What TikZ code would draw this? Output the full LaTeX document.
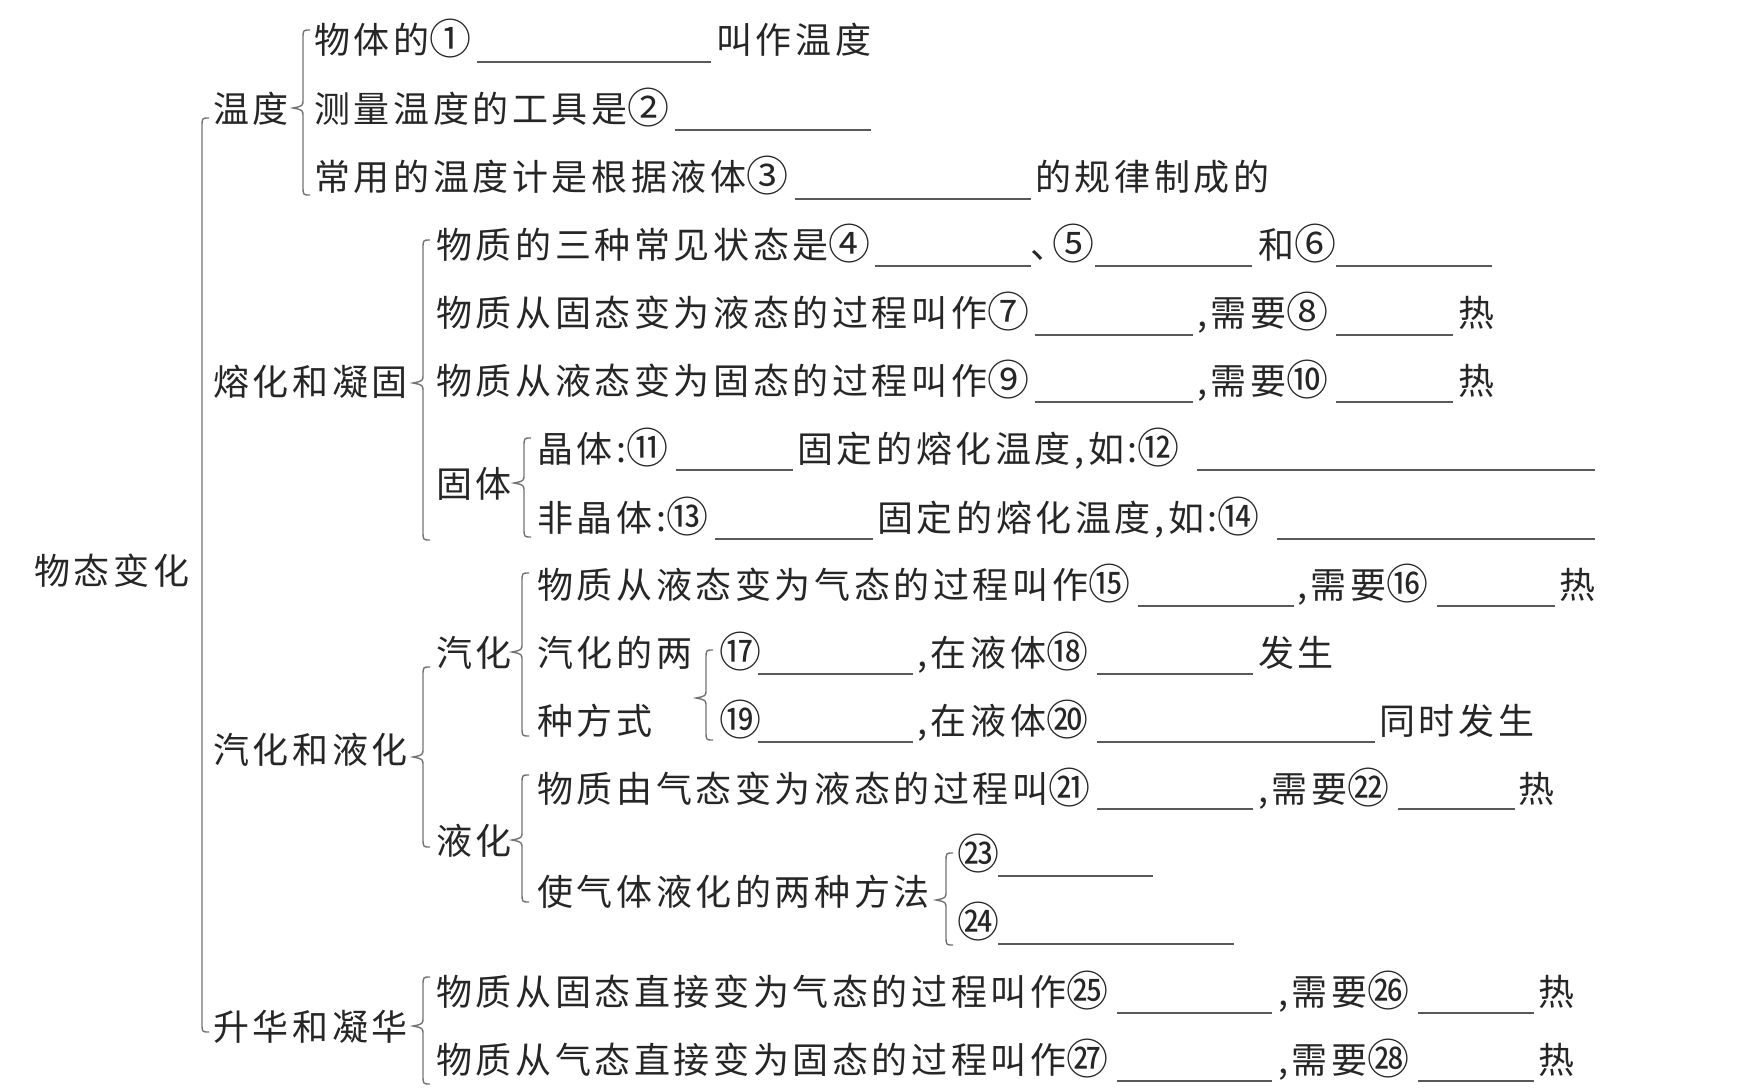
\documentclass[tikz,border=0pt]{standalone}
\usepackage{fontspec}
\newfontfamily\cjk{Noto Sans CJK SC}[LetterSpace=10]
\usepackage{tikz}
\newcommand{\kuohao}[4]{%
  \draw[brc] (#1+7,#2) .. controls (#1,#2) .. (#1,#2+9) -- (#1,#3-9)
    .. controls (#1,#3-2) .. (#1-10,#3) .. controls (#1,#3+2) .. (#1,#3+9)
    -- (#1,#4-9) .. controls (#1,#4) .. (#1+7,#4);}
\newcommand{\blank}[3]{\draw[blk] (#1,#3) -- (#2,#3);}
\newcommand{\qn}[1]{{\fontsize{21}{18}\selectfont\raisebox{-0.8pt}{#1}}}

\begin{document}
\begin{tikzpicture}[
    x=0.5pt, y=-0.5pt,
    txt/.style={anchor=base west, inner sep=0pt, font=\cjk\fontsize{18}{18}\selectfont, text=black!85},
    brc/.style={draw=black!55, line width=0.7pt},
    blk/.style={draw=black!65, line width=0.9pt}]
  \useasboundingbox (0,0) rectangle (1761,1087);

  \node[txt] (top) at (34,584) {物态变化};
  \draw[brc] (209,118) .. controls (202,118) .. (202,127) -- (202,1023) .. controls (202,1032) .. (209,1032);

  \node[txt] (wendu) at (213,122) {温度};
  \kuohao{303}{30}{108}{195}
  \node[txt] (r1a) at (314,53) {物体的\qn{①}};
  \blank{477}{711}{62}
  \node[txt] (r1b) at (716,53) {叫作温度};
  \node[txt] (r2a) at (314,122) {测量温度的工具是\qn{②}};
  \blank{675}{871}{130}
  \node[txt] (r3a) at (314,190) {常用的温度计是根据液体\qn{③}};
  \blank{795}{1031}{199}
  \node[txt] (r3b) at (1035,190) {的规律制成的};

  \node[txt] (rongh) at (213,395) {熔化和凝固};
  \kuohao{423}{240}{383}{540}
  \node[txt] (r4a) at (436,258) {物质的三种常见状态是\qn{④}};
  \blank{875}{1031}{266}
  \node[txt] (r4b) at (1030,258) {\makebox[0.6em][l]{、}\qn{⑤}};
  \blank{1095}{1252}{266}
  \node[txt] (r4d) at (1258,258) {和\qn{⑥}};
  \blank{1336}{1492}{266}
  \node[txt] (r5a) at (436,326) {物质从固态变为液态的过程叫作\qn{⑦}};
  \blank{1035}{1193}{335}
  \node[txt] (r5b) at (1197,326) {,需要\qn{⑧}};
  \blank{1336}{1453}{335}
  \node[txt] (r5c) at (1458,326) {热};
  \node[txt] (r6a) at (436,394) {物质从液态变为固态的过程叫作\qn{⑨}};
  \blank{1035}{1193}{402}
  \node[txt] (r6b) at (1197,394) {,需要\qn{⑩}};
  \blank{1336}{1453}{402}
  \node[txt] (r6c) at (1458,394) {热};

  \node[txt] (guti) at (436,497) {固体};
  \kuohao{524}{438}{483}{537}
  \node[txt] (r7a) at (537,462) {晶体:\qn{⑪}};
  \blank{676}{793}{470}
  \node[txt] (r7b) at (797,462) {固定的熔化温度,如:\qn{⑫}};
  \blank{1197}{1595}{470}
  \node[txt] (r8a) at (537,531) {非晶体:\qn{⑬}};
  \blank{715}{873}{539}
  \node[txt] (r8b) at (877,531) {固定的熔化温度,如:\qn{⑭}};
  \blank{1277}{1595}{539}

  \node[txt] (qihy) at (213,763) {汽化和液化};
  \kuohao{423}{667}{757}{847}
  \node[txt] (qih) at (436,666) {汽化};
  \kuohao{522}{573}{652}{736}
  \node[txt] (r9a) at (537,598) {物质从液态变为气态的过程叫作\qn{⑮}};
  \blank{1138}{1294}{606}
  \node[txt] (r9b) at (1297,598) {,需要\qn{⑯}};
  \blank{1437}{1555}{606}
  \node[txt] (r9c) at (1559,598) {热};
  \node[txt] (r10a) at (537,666) {汽化的两};
  \node[txt] (r11a) at (537,734) {种方式};
  \kuohao{706}{650}{698}{740}
  \node[txt] (r10b) at (719,666) {\qn{⑰}};
  \blank{758}{913}{674}
  \node[txt] (r10c) at (917,666) {,在液体\qn{⑱}};
  \blank{1097}{1253}{674}
  \node[txt] (r10d) at (1258,666) {发生};
  \node[txt] (r11b) at (719,734) {\qn{⑲}};
  \blank{758}{913}{742}
  \node[txt] (r11c) at (917,734) {,在液体\qn{⑳}};
  \blank{1097}{1375}{742}
  \node[txt] (r11d) at (1379,734) {同时发生};

  \node[txt] (yeh) at (436,854) {液化};
  \kuohao{522}{775}{840}{902}
  \node[txt] (r12a) at (537,802) {物质由气态变为液态的过程叫\qn{㉑}};
  \blank{1097}{1253}{809}
  \node[txt] (r12b) at (1258,802) {,需要\qn{㉒}};
  \blank{1398}{1515}{809}
  \node[txt] (r12c) at (1518,802) {热};
  \node[txt] (r13a) at (537,905) {使气体液化的两种方法};
  \kuohao{946}{853}{900}{945}
  \node[txt] (r13b) at (957,868) {\qn{㉓}};
  \blank{998}{1153}{876}
  \node[txt] (r13c) at (957,936) {\qn{㉔}};
  \blank{998}{1234}{944}

  \node[txt] (shengh) at (213,1040) {升华和凝华};
  \kuohao{423}{977}{1026}{1084}
  \node[txt] (r14a) at (436,1005) {物质从固态直接变为气态的过程叫作\qn{㉕}};
  \blank{1117}{1272}{1013}
  \node[txt] (r14b) at (1278,1005) {,需要\qn{㉖}};
  \blank{1418}{1534}{1013}
  \node[txt] (r14c) at (1538,1005) {热};
  \node[txt] (r15a) at (436,1073) {物质从气态直接变为固态的过程叫作\qn{㉗}};
  \blank{1117}{1272}{1081}
  \node[txt] (r15b) at (1278,1073) {,需要\qn{㉘}};
  \blank{1418}{1534}{1081}
  \node[txt] (r15c) at (1538,1073) {热};
\end{tikzpicture}
\end{document}
